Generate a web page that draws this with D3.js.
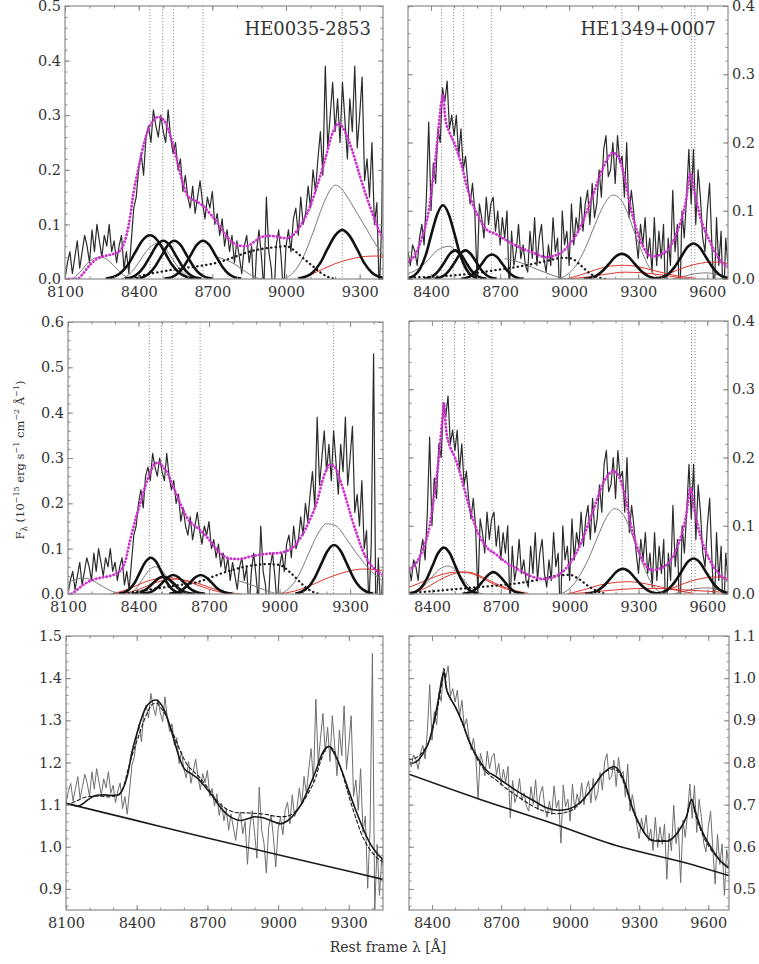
<!DOCTYPE html>
<html>
<head>
<meta charset="utf-8">
<script src="https://cdn.jsdelivr.net/npm/d3@7"></script>
<style>
body { margin: 0; background: #fff; overflow: hidden; }
svg { display: block; }
text { font-family: "DejaVu Serif", serif; fill: #333; }
</style>
</head>
<body>
<svg width="759" height="964"></svg>
<script>
let svg = d3.select("svg");

// observed (continuum subtracted) spectra, sampled every 10 A
const obsStep = 10;
const obsStartL = 8100;   // HE0035-2853
const obsStartR = 8300;   // HE1349+0007

const obsL = [
  0.00, 0.03, 0.05, 0.01, 0.04, 0.07, 0.02, 0.05, 0.08, 0.06,
  0.03, 0.09, 0.05, 0.10, 0.07, 0.04, 0.08, 0.06, 0.10, 0.05,
  0.07, 0.03, 0.06, 0.08, 0.02, 0.05, 0.01, 0.07, 0.13, 0.15,
  0.20, 0.23, 0.19, 0.26, 0.28, 0.25, 0.31, 0.28, 0.26, 0.30,
  0.27, 0.25, 0.31, 0.26, 0.23, 0.25, 0.20, 0.22, 0.16, 0.19,
  0.15, 0.13, 0.17, 0.12, 0.15, 0.18, 0.14, 0.11, 0.15, 0.13,
  0.16, 0.10, 0.12, 0.08, 0.11, 0.06, 0.09, 0.05, 0.08, 0.03,
  0.07, 0.04, 0.01, 0.06, 0.08, 0.03, 0.06, -0.04, 0.05, 0.09,
  0.04, -0.02, 0.15, 0.05, 0.02, -0.05, 0.06, 0.09, 0.04, -0.03,
  0.06, 0.09, 0.05, 0.11, 0.13, 0.08, 0.15, 0.10, 0.12, 0.17,
  0.13, 0.20, 0.16, 0.22, 0.27, 0.19, 0.39, 0.24, 0.30, 0.36,
  0.27, 0.33, 0.25, 0.36, 0.29, 0.22, 0.33, 0.27, 0.39, 0.24,
  0.30, 0.37, 0.18, 0.22, 0.15, 0.25, 0.10, 0.14, -0.03, 0.11,
  0.53, -0.08, 0.08, -0.04, 0.05, 0.02
];

const obsR = [
  0.04, 0.02, 0.05, 0.04, 0.02, 0.06, 0.08, 0.05, 0.12, 0.23,
  0.10, 0.17, 0.14, 0.22, 0.20, 0.28, 0.26, 0.29, 0.22, 0.24,
  0.21, 0.24, 0.18, 0.22, 0.16, 0.18, 0.14, 0.11, 0.14, 0.10,
  0.00, 0.11, 0.09, 0.06, 0.12, 0.08, 0.11, 0.12, 0.07, 0.10,
  0.05, 0.09, 0.06, 0.10, -0.02, 0.07, 0.02, 0.04, 0.08, 0.03,
  0.05, 0.02, 0.01, 0.07, 0.03, 0.09, 0.02, 0.06, 0.08, 0.03,
  0.01, 0.05, 0.02, 0.09, 0.04, 0.06, -0.04, 0.10, 0.05, 0.07,
  0.02, 0.11, 0.05, 0.09, 0.07, 0.12, 0.07, 0.11, 0.13, 0.08,
  0.14, 0.09, 0.11, 0.16, 0.12, 0.19, 0.21, 0.15, 0.16, 0.20,
  0.14, 0.21, 0.17, 0.18, 0.12, 0.20, 0.09, 0.13, 0.10, 0.06,
  0.03, 0.08, 0.05, 0.09, 0.03, 0.06, 0.01, 0.09, 0.02, 0.07,
  0.03, 0.08, -0.05, 0.06, 0.02, 0.13, 0.04, 0.08, -0.05, 0.10,
  0.06, 0.12, 0.19, 0.11, 0.19, 0.08, 0.16, 0.12, 0.06, 0.04,
  0.10, 0.14, 0.05, -0.03, 0.09, 0.02, 0.07, -0.05, 0.06, 0.02,
  0.05
];

// continuum [lambda, flux]
const contL = [[8100, 1.103], [8400, 1.062], [8700, 1.021], [9000, 0.981], [9300, 0.942], [9450, 0.922]];
const contR = [[8300, 0.772], [8600, 0.714], [8900, 0.660], [9200, 0.603], [9500, 0.562], [9700, 0.530]];

// OI 8446, CaII triplet, Pa9, [SIII] 9531, Pa eps
const lineCentres = [8446, 8498, 8542, 8662, 9229, 9531, 9546];

// tick labels
const xTicksL = [8100, 8400, 8700, 9000, 9300];
const xTicksR = [8400, 8700, 9000, 9300, 9600];
const yTicksTL = [0, 0.1, 0.2, 0.3, 0.4, 0.5];
const yTicksTR = [0, 0.1, 0.2, 0.3, 0.4];
const yTicksML = [0, 0.1, 0.2, 0.3, 0.4, 0.5, 0.6];
const yTicksMR = [0, 0.1, 0.2, 0.3, 0.4];
const yTicksBL = [0.9, 1.0, 1.1, 1.2, 1.3, 1.4, 1.5];
const yTicksBR = [0.5, 0.6, 0.7, 0.8, 0.9, 1.0, 1.1];

// total fits (magenta)
const fitTL = [[8100,0],[8130,0],[8150,0],[8170,0.008],[8200,0.025],[8230,0.037],[8260,0.042],[8290,0.045],[8320,0.05],[8340,0.065],[8360,0.1],[8380,0.16],[8400,0.205],[8420,0.245],[8440,0.275],[8460,0.29],[8480,0.297],[8500,0.292],[8520,0.275],[8540,0.245],[8560,0.21],[8580,0.175],[8600,0.152],[8630,0.143],[8660,0.135],[8690,0.12],[8720,0.103],[8750,0.083],[8780,0.068],[8810,0.061],[8840,0.06],[8870,0.068],[8900,0.077],[8930,0.079],[8960,0.078],[8990,0.075],[9010,0.075],[9040,0.086],[9070,0.106],[9100,0.135],[9130,0.175],[9160,0.22],[9190,0.268],[9215,0.285],[9240,0.27],[9270,0.235],[9300,0.19],[9330,0.148],[9360,0.11],[9390,0.078],[9420,0.058],[9450,0.045]];
const fitML = [[8100,0],[8110,0],[8140,0.01],[8170,0.022],[8200,0.03],[8240,0.036],[8280,0.04],[8320,0.05],[8345,0.075],[8365,0.12],[8390,0.17],[8410,0.205],[8430,0.24],[8451,0.27],[8470,0.287],[8485,0.29],[8505,0.28],[8525,0.265],[8545,0.24],[8565,0.215],[8590,0.185],[8610,0.165],[8640,0.15],[8665,0.14],[8700,0.12],[8730,0.1],[8760,0.085],[8790,0.078],[8830,0.077],[8870,0.082],[8910,0.086],[8950,0.089],[8990,0.09],[9020,0.093],[9050,0.1],[9090,0.125],[9130,0.165],[9160,0.205],[9180,0.245],[9200,0.275],[9215,0.285],[9235,0.28],[9255,0.255],[9280,0.215],[9305,0.17],[9330,0.13],[9350,0.1],[9380,0.07],[9410,0.052],[9450,0.04]];
const fitTR = [[8300,0.025],[8330,0.035],[8360,0.06],[8390,0.1],[8410,0.15],[8430,0.21],[8445,0.26],[8452,0.27],[8462,0.235],[8480,0.215],[8500,0.2],[8530,0.17],[8560,0.13],[8600,0.095],[8640,0.073],[8680,0.066],[8720,0.058],[8780,0.047],[8840,0.039],[8900,0.032],[8950,0.036],[8990,0.046],[9050,0.077],[9100,0.12],[9150,0.165],[9190,0.185],[9215,0.178],[9240,0.15],[9270,0.1],[9310,0.056],[9360,0.033],[9420,0.04],[9470,0.07],[9505,0.11],[9528,0.155],[9540,0.135],[9570,0.09],[9610,0.056],[9650,0.03],[9690,0.017]];
const fitMR = [[8300,0.035],[8330,0.045],[8360,0.065],[8390,0.1],[8410,0.145],[8430,0.2],[8445,0.255],[8452,0.28],[8462,0.24],[8480,0.215],[8500,0.2],[8530,0.168],[8560,0.13],[8600,0.09],[8640,0.068],[8680,0.058],[8720,0.047],[8780,0.035],[8840,0.025],[8890,0.022],[8940,0.026],[8990,0.04],[9050,0.075],[9100,0.12],[9150,0.165],[9190,0.18],[9215,0.172],[9240,0.145],[9270,0.097],[9310,0.055],[9360,0.035],[9420,0.042],[9470,0.07],[9505,0.11],[9528,0.155],[9540,0.13],[9570,0.085],[9610,0.05],[9650,0.03],[9690,0.02]];

// narrow components (thick black)
const tlThick = [
  [[8266,0.001],[8296,0.0035],[8326,0.011],[8356,0.026],[8386,0.049],[8416,0.071],[8446,0.08],[8476,0.071],[8506,0.049],[8536,0.026],[8566,0.011],[8596,0.0035],[8626,0.001]],
  [[8344,0.001],[8370,0.003],[8396,0.0095],[8422,0.023],[8448,0.0425],[8474,0.062],[8500,0.07],[8526,0.062],[8552,0.0425],[8578,0.023],[8604,0.0095],[8630,0.003],[8656,0.001]],
  [[8389,0.001],[8415,0.003],[8441,0.0095],[8467,0.023],[8493,0.0425],[8519,0.062],[8545,0.07],[8571,0.062],[8597,0.0425],[8623,0.023],[8649,0.0095],[8675,0.003],[8701,0.001]],
  [[8506,0.001],[8532,0.003],[8558,0.0095],[8584,0.023],[8610,0.0425],[8636,0.062],[8662,0.07],[8688,0.062],[8714,0.0425],[8740,0.023],[8766,0.0095],[8792,0.003],[8818,0.001]],
  [[9049,0.001],[9079,0.004],[9109,0.012],[9139,0.029],[9169,0.055],[9199,0.079],[9229,0.09],[9259,0.079],[9289,0.055],[9319,0.029],[9349,0.012],[9379,0.004],[9409,0.001]]
];
const mlThick = [
  [[8317,0.001],[8340,0.0035],[8362,0.011],[8385,0.026],[8407,0.049],[8430,0.071],[8452,0.08],[8475,0.071],[8497,0.049],[8520,0.026],[8542,0.011],[8565,0.0035],[8587,0.001]],
  [[8370,0.0004],[8392,0.0017],[8415,0.005],[8437,0.012],[8460,0.023],[8482,0.0335],[8505,0.038],[8527,0.0335],[8550,0.023],[8572,0.012],[8595,0.005],[8617,0.0017],[8640,0.0004]],
  [[8413,0.0005],[8435,0.002],[8458,0.006],[8480,0.014],[8503,0.0255],[8525,0.037],[8548,0.042],[8570,0.037],[8593,0.0255],[8615,0.014],[8638,0.006],[8660,0.002],[8683,0.0005]],
  [[8530,0.0005],[8552,0.002],[8575,0.006],[8597,0.014],[8620,0.0255],[8642,0.037],[8665,0.042],[8687,0.037],[8710,0.0255],[8732,0.014],[8755,0.006],[8777,0.002],[8800,0.0005]],
  [[9067,0.001],[9094,0.005],[9122,0.015],[9149,0.035],[9177,0.066],[9204,0.095],[9232,0.108],[9260,0.095],[9287,0.066],[9315,0.035],[9342,0.015],[9370,0.005],[9397,0.001]]
];
const trThick = [
  [[8302,0.001],[8327,0.005],[8352,0.015],[8377,0.035],[8402,0.066],[8427,0.095],[8452,0.108],[8477,0.095],[8502,0.066],[8527,0.035],[8552,0.015],[8577,0.005],[8602,0.001]],
  [[8370,0.0005],[8392,0.002],[8415,0.006],[8437,0.014],[8460,0.0255],[8482,0.037],[8505,0.042],[8527,0.037],[8550,0.0255],[8572,0.014],[8595,0.006],[8617,0.002],[8640,0.0005]],
  [[8415,0.0005],[8437,0.002],[8460,0.006],[8482,0.014],[8505,0.0255],[8527,0.037],[8550,0.042],[8572,0.037],[8595,0.0255],[8617,0.014],[8640,0.006],[8662,0.002],[8685,0.0005]],
  [[8530,0.0004],[8552,0.0016],[8575,0.005],[8597,0.012],[8620,0.022],[8642,0.032],[8665,0.036],[8687,0.032],[8710,0.022],[8732,0.012],[8755,0.005],[8777,0.0016],[8800,0.0004]],
  [[9064,0.0004],[9091,0.0016],[9119,0.005],[9146,0.012],[9174,0.0225],[9201,0.0326],[9229,0.037],[9257,0.0326],[9284,0.0225],[9312,0.012],[9339,0.005],[9367,0.0016],[9394,0.0004]],
  [[9375,0.0006],[9402,0.0023],[9430,0.007],[9457,0.017],[9485,0.0316],[9512,0.0459],[9540,0.052],[9568,0.0459],[9595,0.0316],[9623,0.017],[9650,0.007],[9678,0.0023],[9705,0.0006]]
];
const mrThick = [
  [[8302,0.0007],[8327,0.003],[8352,0.009],[8377,0.022],[8402,0.041],[8427,0.06],[8452,0.068],[8477,0.06],[8502,0.041],[8527,0.022],[8552,0.009],[8577,0.003],[8602,0.0007]],
  [[8533,0.0004],[8555,0.0014],[8578,0.004],[8600,0.0104],[8623,0.0194],[8645,0.028],[8668,0.032],[8690,0.028],[8713,0.0194],[8735,0.0104],[8758,0.004],[8780,0.0014],[8803,0.0004]],
  [[9067,0.0004],[9094,0.0016],[9122,0.005],[9149,0.012],[9177,0.0225],[9204,0.0326],[9232,0.037],[9260,0.0326],[9287,0.0225],[9315,0.012],[9342,0.005],[9370,0.0016],[9397,0.0004]],
  [[9375,0.0006],[9402,0.0023],[9430,0.007],[9457,0.017],[9485,0.0316],[9512,0.0459],[9540,0.052],[9568,0.0459],[9595,0.0316],[9623,0.017],[9650,0.007],[9678,0.0023],[9705,0.0006]]
];

// broad components (thin grey)
const tlGray = [
  [[8130,0],[8160,0.012],[8190,0.028],[8220,0.038],[8245,0.04],[8270,0.036],[8300,0.024],[8330,0.01],[8360,0.002],[8380,0]],
  [[8330,0],[8370,0.012],[8400,0.03],[8430,0.05],[8460,0.063],[8480,0.066],[8500,0.06],[8530,0.042],[8560,0.022],[8590,0.008],[8620,0]],
  [[8720,0.04],[8780,0.03],[8830,0.015],[8870,0.004],[8900,0]],
  [[8990,0],[9030,0.012],[9070,0.04],[9110,0.085],[9150,0.135],[9180,0.163],[9200,0.172],[9220,0.168],[9250,0.15],[9290,0.12],[9330,0.09],[9370,0.06],[9410,0.035],[9450,0.018]]
];
const mlGray = [
  [[8100,0.025],[8130,0.032],[8160,0.035],[8190,0.033],[8230,0.022],[8270,0.01],[8310,0.002],[8340,0]],
  [[8360,0],[8390,0.012],[8420,0.035],[8450,0.055],[8472,0.06],[8495,0.055],[8520,0.038],[8550,0.018],[8580,0.005],[8610,0]],
  [[8820,0.03],[8880,0.02],[8940,0.008],[8990,0]],
  [[9000,0],[9040,0.012],[9080,0.04],[9120,0.085],[9160,0.13],[9200,0.155],[9240,0.15],[9280,0.125],[9320,0.095],[9360,0.068],[9400,0.045],[9450,0.026]]
];
const trGray = [
  [[8300,0.008],[8340,0.014],[8380,0.025],[8420,0.04],[8450,0.046],[8480,0.048],[8510,0.04],[8540,0.025],[8570,0.012],[8600,0.004],[8630,0]],
  [[8720,0.03],[8780,0.025],[8840,0.017],[8900,0.009],[8950,0.003],[8990,0]],
  [[8950,0],[8990,0.006],[9030,0.02],[9070,0.045],[9110,0.078],[9150,0.108],[9190,0.123],[9220,0.118],[9250,0.1],[9280,0.072],[9310,0.045],[9340,0.022],[9370,0.007],[9400,0]],
  [[9450,0],[9500,0.004],[9550,0.008],[9600,0.009],[9650,0.006],[9700,0.003]]
];
const mrGray = [
  [[8320,0.003],[8360,0.01],[8400,0.025],[8440,0.038],[8470,0.041],[8500,0.036],[8530,0.024],[8560,0.012],[8590,0.004],[8620,0]],
  [[8960,0],[9000,0.008],[9040,0.025],[9080,0.05],[9120,0.082],[9160,0.112],[9195,0.125],[9230,0.118],[9260,0.098],[9290,0.07],[9320,0.043],[9350,0.02],[9380,0.006],[9410,0]],
  [[9450,0],[9500,0.004],[9550,0.008],[9600,0.009],[9650,0.006],[9700,0.003]]
];

// red components
const tlRed = [
  [[9050,0],[9100,0.008],[9150,0.018],[9200,0.028],[9250,0.035],[9300,0.04],[9350,0.042],[9400,0.042],[9450,0.041]]
];
const mlRed = [
  [[8280,0],[8330,0.006],[8380,0.016],[8430,0.027],[8480,0.034],[8520,0.036],[8560,0.034],[8610,0.027],[8660,0.018],[8710,0.009],[8760,0.003],[8810,0]],
  [[8320,0],[8370,0.005],[8420,0.014],[8470,0.025],[8520,0.031],[8560,0.033],[8600,0.03],[8650,0.024],[8700,0.015],[8750,0.007],[8800,0.002],[8840,0]],
  [[9000,0],[9060,0.006],[9120,0.016],[9180,0.03],[9240,0.042],[9300,0.051],[9350,0.055],[9400,0.054],[9450,0.05]]
];
const trRed = [
  [[8990,0],[9050,0.006],[9120,0.014],[9180,0.019],[9240,0.02],[9300,0.018],[9360,0.013],[9420,0.008],[9480,0.004],[9550,0.001]],
  [[9000,0],[9080,0.003],[9160,0.007],[9240,0.01],[9320,0.009],[9400,0.006],[9460,0.003],[9520,0]],
  [[9370,0],[9420,0.006],[9470,0.013],[9520,0.019],[9570,0.023],[9620,0.025],[9660,0.024],[9700,0.022]]
];
const mrRed = [
  [[8300,0.01],[8340,0.015],[8380,0.021],[8420,0.026],[8460,0.03],[8500,0.032],[8540,0.032],[8580,0.029],[8620,0.023],[8660,0.016],[8700,0.01],[8750,0.005],[8800,0.001]],
  [[8330,0.003],[8380,0.01],[8430,0.02],[8480,0.028],[8530,0.032],[8560,0.032],[8600,0.028],[8650,0.02],[8700,0.012],[8760,0.005],[8820,0.001]],
  [[8990,0],[9060,0.006],[9130,0.013],[9200,0.017],[9260,0.018],[9330,0.015],[9400,0.01],[9470,0.005],[9540,0.001]],
  [[9380,0],[9430,0.006],[9480,0.013],[9530,0.019],[9580,0.023],[9630,0.025],[9700,0.023]],
  [[9000,0],[9100,0.003],[9200,0.006],[9300,0.008],[9400,0.008],[9500,0.006],[9600,0.004],[9700,0.002]]
];

// dotted black component
const tlDots = [[8350,0],[8400,0.005],[8450,0.01],[8500,0.014],[8550,0.018],[8600,0.021],[8650,0.024],[8700,0.028],[8750,0.034],[8800,0.042],[8850,0.05],[8900,0.055],[8950,0.058],[9000,0.06],[9040,0.05],[9070,0.038],[9105,0.025],[9140,0.012],[9170,0.004],[9200,0]];
const mlDots = [[8300,0],[8350,0.002],[8400,0.006],[8450,0.01],[8500,0.014],[8550,0.018],[8600,0.022],[8650,0.026],[8700,0.035],[8750,0.045],[8800,0.053],[8850,0.06],[8900,0.064],[8950,0.066],[9000,0.064],[9040,0.05],[9080,0.03],[9110,0.015],[9140,0.005],[9170,0]];
const trDots = [[8310,0.002],[8380,0.003],[8450,0.004],[8520,0.006],[8600,0.009],[8680,0.013],[8760,0.017],[8840,0.022],[8910,0.027],[8970,0.031],[9010,0.03],[9050,0.02],[9090,0.008],[9130,0.002],[9160,0]];
const mrDots = [[8310,0.002],[8400,0.004],[8500,0.007],[8600,0.01],[8700,0.013],[8800,0.017],[8880,0.022],[8950,0.027],[9000,0.028],[9040,0.022],[9080,0.012],[9120,0.004],[9160,0]];

function toPairs(vals, start) {
  return vals.map((v, i) => [start + i * obsStep, v]);
}

let panels = [
  { id: "tl", box: [65, 383, 6, 279], xd: [8100, 9395], yd: [0, 0.5], yt: yTicksTL, xt: xTicksL, side: "left",
    title: "HE0035-2853", obs: toPairs(obsL, obsStartL), fit: fitTL, thick: tlThick, gray: tlGray, red: tlRed, dots: tlDots },
  { id: "tr", box: [408, 728, 6, 279], xd: [8300, 9690], yd: [0, 0.4], yt: yTicksTR, xt: xTicksR, side: "right",
    title: "HE1349+0007", obs: toPairs(obsR, obsStartR), fit: fitTR, thick: trThick, gray: trGray, red: trRed, dots: trDots },
  { id: "ml", box: [68, 383, 322, 594], xd: [8100, 9440], yd: [0, 0.6], yt: yTicksML, xt: xTicksL, side: "left",
    obs: toPairs(obsL, obsStartL), fit: fitML, thick: mlThick, gray: mlGray, red: mlRed, dots: mlDots },
  { id: "mr", box: [409, 728, 321, 594], xd: [8300, 9690], yd: [0, 0.4], yt: yTicksMR, xt: xTicksR, side: "right",
    obs: toPairs(obsR, obsStartR), fit: fitMR, thick: mrThick, gray: mrGray, red: mrRed, dots: mrDots },
  { id: "bl", box: [66, 383, 636, 910], xd: [8100, 9445], yd: [0.85, 1.5], yt: yTicksBL, xt: xTicksL, side: "left",
    obs: toPairs(obsL, obsStartL), cont: contL, fits: [fitTL, fitML] },
  { id: "br", box: [409, 729, 636, 910], xd: [8300, 9690], yd: [0.45, 1.1], yt: yTicksBR, xt: xTicksR, side: "right",
    obs: toPairs(obsR, obsStartR), cont: contR, fits: [fitTR, fitMR] }
];

function drawPanel(p) {
  let [x0, x1, y0, y1] = p.box;
  let x = d3.scaleLinear().domain(p.xd).range([x0, x1]);
  let y = d3.scaleLinear().domain(p.yd).range([y1, y0]);
  let g = svg.append("g").attr("class", "panel " + p.id);

  g.append("clipPath").attr("id", "clip-" + p.id)
    .append("rect")
    .attr("x", x0).attr("y", y0)
    .attr("width", x1 - x0).attr("height", y1 - y0);
  let plot = g.append("g").attr("clip-path", "url(#clip-" + p.id + ")");

  let straight = d3.line().x(d => x(d[0])).y(d => y(d[1]));
  let smooth = d3.line().x(d => x(d[0])).y(d => y(d[1])).curve(d3.curveMonotoneX);

  function draw(data, gen, stroke, width, dash) {
    plot.append("path")
      .datum(data)
      .attr("d", gen)
      .attr("fill", "none")
      .attr("stroke", stroke)
      .attr("stroke-width", width)
      .attr("stroke-dasharray", dash || null)
      .attr("stroke-linecap", dash ? "round" : "butt")
      .attr("stroke-linejoin", "round");
  }

  if (p.cont) {
    // total spectrum = continuum + emission
    let contAt = d3.scaleLinear().domain(p.cont.map(d => d[0])).range(p.cont.map(d => d[1]));
    let addCont = pts => pts.map(d => [d[0], d[1] + contAt(d[0])]);
    draw(addCont(p.obs), straight, "#6e6e6e", 1);
    draw(p.cont, smooth, "#1a1a1a", 1.6);
    draw(addCont(p.fits[1]), smooth, "#1a1a1a", 1.1, "3.5,2.5");
    draw(addCont(p.fits[0]), smooth, "#1a1a1a", 1.6);
  } else {
    // line identifications
    plot.selectAll("line.ident")
      .data(lineCentres.filter(l => l > p.xd[0] && l < p.xd[1]))
      .enter().append("line")
      .attr("class", "ident")
      .attr("x1", d => x(d)).attr("x2", d => x(d))
      .attr("y1", y0).attr("y2", y1)
      .attr("stroke", "#777")
      .attr("stroke-width", 0.8)
      .attr("stroke-dasharray", "1.2,1.8");

    draw(p.obs, straight, "#2b2b2b", 1.2);
    p.gray.forEach(c => draw(c, smooth, "#7a7a7a", 1));
    p.red.forEach(c => draw(c, smooth, "#e0352b", 1));
    draw(p.dots, smooth, "#1a1a1a", 2.3, "0.3,4.2");
    p.thick.forEach(c => draw(c, smooth, "#111", 2.6));
    draw(p.fit, smooth, "#cc33cc", 2.8, "0.3,3.3");
  }

  // frame
  g.append("rect")
    .attr("x", x0).attr("y", y0)
    .attr("width", x1 - x0).attr("height", y1 - y0)
    .attr("fill", "none")
    .attr("stroke", "#8a8a8a")
    .attr("stroke-width", 1.2);

  let minorX = d3.range(p.xd[0] - (p.xd[0] % 100), p.xd[1] + 1, 100);
  let minorY = d3.range(Math.ceil(p.yd[0] / 0.02 - 1e-6) * 0.02, p.yd[1] + 1e-6, 0.02);

  function axis(gen, tr, vals, size, fmt, pad) {
    let a = g.append("g")
      .attr("transform", tr)
      .attr("color", "#8a8a8a")
      .call(gen.tickValues(vals).tickSize(size).tickPadding(pad || 3).tickFormat(fmt || (() => "")));
    a.select(".domain").remove();
    a.selectAll("text")
      .attr("fill", "#333")
      .attr("font-family", "DejaVu Serif")
      .attr("font-size", 14.5);
    return a;
  }

  let fmtY = d3.format(".1f");
  axis(d3.axisBottom(x), `translate(0,${y1})`, p.xt, -5, d3.format("d"), 8);
  axis(d3.axisBottom(x), `translate(0,${y1})`, minorX, -2.5);
  axis(d3.axisTop(x), `translate(0,${y0})`, p.xt, -5);
  axis(d3.axisTop(x), `translate(0,${y0})`, minorX, -2.5);
  axis(d3.axisLeft(y), `translate(${x0},0)`, p.yt, -5, p.side === "left" ? fmtY : null, 4);
  axis(d3.axisLeft(y), `translate(${x0},0)`, minorY, -2.5);
  axis(d3.axisRight(y), `translate(${x1},0)`, p.yt, -5, p.side === "right" ? fmtY : null, 4);
  axis(d3.axisRight(y), `translate(${x1},0)`, minorY, -2.5);

  if (p.title) {
    g.append("text")
      .attr("x", x1 - 12)
      .attr("y", y0 + 29)
      .attr("text-anchor", "end")
      .attr("font-size", 18)
      .attr("fill", "#222")
      .text(p.title);
  }
}

panels.forEach(drawPanel);

// axis titles
svg.append("text")
  .attr("x", 388)
  .attr("y", 952)
  .attr("text-anchor", "middle")
  .attr("font-size", 14)
  .text("Rest frame λ [Å]");

let ylab = svg.append("text")
  .attr("transform", "translate(24,460) rotate(-90)")
  .attr("text-anchor", "middle")
  .attr("font-size", 11.5);
ylab.append("tspan").text("F");
ylab.append("tspan").attr("font-size", 8.5).attr("dy", 3).text("λ");
ylab.append("tspan").attr("dy", -3).text(" (10");
ylab.append("tspan").attr("font-size", 8).attr("dy", -5).text("−15");
ylab.append("tspan").attr("dy", 5).text(" erg s");
ylab.append("tspan").attr("font-size", 8).attr("dy", -5).text("−1");
ylab.append("tspan").attr("dy", 5).text(" cm");
ylab.append("tspan").attr("font-size", 8).attr("dy", -5).text("−2");
ylab.append("tspan").attr("dy", 5).text(" Å");
ylab.append("tspan").attr("font-size", 8).attr("dy", -5).text("−1");
ylab.append("tspan").attr("dy", 5).text(")");
</script>
</body>
</html>
